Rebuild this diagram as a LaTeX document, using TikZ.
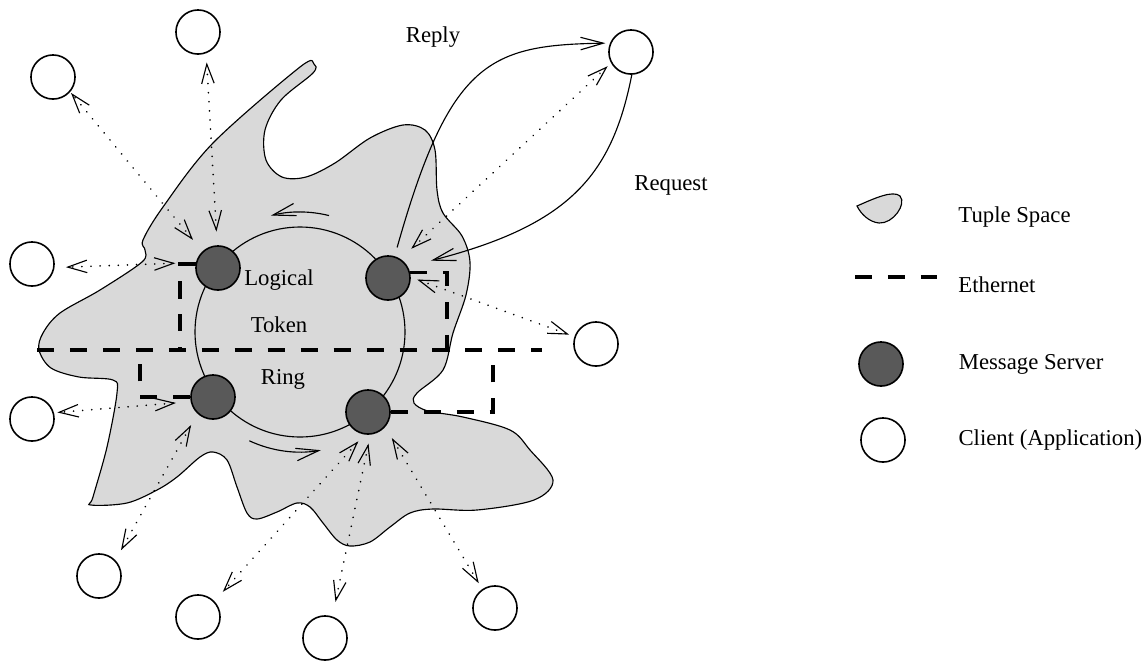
\documentclass[tikz,border=0pt]{standalone}
\usepackage{fontspec}
\setmainfont{Liberation Serif}
\usetikzlibrary{positioning,arrows.meta}
\tikzstyle{tsfill}=[draw=black, fill=black!15, line width=0.5pt]
\tikzstyle{srvnode}=[circle, draw=black, fill=black!65, line width=0.7pt,
                     minimum size=19.4pt, inner sep=0pt]
\tikzstyle{clnode}=[circle, draw=black, fill=white, line width=0.7pt,
                    minimum size=19.4pt, inner sep=0pt]
\tikzstyle{ringnode}=[circle, draw=black, line width=0.5pt, minimum size=92.4pt, inner sep=0pt]
\tikzstyle{ethline}=[line width=1.4pt, dash pattern=on 7.5pt off 7pt]
\tikzstyle{dline}=[{Straight Barb[length=8.5pt,width=5.5pt,line width=0.5pt]}-{Straight Barb[length=8.5pt,width=5.5pt,line width=0.5pt]},
                   line width=0.8pt, dash pattern=on 0.01pt off 4pt, line cap=round]
\tikzstyle{sline}=[-{Straight Barb[length=10pt,width=5.5pt]}, line width=0.5pt]
\tikzstyle{lgtxt}=[inner sep=0pt]

\begin{document}
\begin{tikzpicture}[x=0.44pt, y=-0.44pt]
\useasboundingbox (0,0) rectangle (1145,660);

\draw[tsfill] plot[smooth cycle, tension=0.55] coordinates {
 (300,67) (314,64) (313,73) (281,100) (265,130) (266,160) (282,177) (306,177)
 (335,163) (370,138) (403,125) (425,130) (435,150) (437,190) (443,213) (462,236)
 (470,262) (466,295) (453,333) (443,370) (417,393) (414,403) (428,411) (463,417)
 (510,430) (530,450) (553,480) (534,500) (477,510) (433,509) (410,513) (390,527)
 (370,542) (350,546) (337,540) (323,523) (310,507) (297,503) (277,512) (257,519)
 (247,513) (237,487) (227,460) (213,452) (200,457) (177,477) (157,490) (127,503)
 (91,505) (93,497) (107,447) (117,393) (113,380) (79,377) (51,368) (39,350)
 (43,333) (60,313) (100,290) (142,262) (145,250) (143,240) (163,207) (213,143)};

\node (RING) [ringnode] at (300,332) {};
\draw[sline] ([shift={(-76:120)}]RING.center) arc[start angle=-76, end angle=-104, radius=120];
\draw[sline] ([shift={(115:120)}]RING.center) arc[start angle=115, end angle=80, radius=120];

\node (SRVTL) [srvnode] at (218,268) {};
\node (SRVTR) [srvnode] at (388,278) {};
\node (SRVBL) [srvnode] at (213,397) {};
\node (SRVBR) [srvnode] at (368,412) {};

\coordinate (ETHW) at (37,350);
\coordinate (ETHE) at (542,350);
\coordinate (ETHA) at (180,350);
\coordinate (ETHB) at (447,350);
\coordinate (ETHC) at (140,350);
\coordinate (ETHD) at (493,350);
\draw[ethline] (ETHW) -- (ETHE);
\draw[ethline] (SRVTL.170) -| (ETHA);
\draw[ethline] (SRVTR.13) -| (ETHB);
\draw[ethline] (SRVBL.west) -| (ETHC);
\draw[ethline] (SRVBR.east) -| (ETHD);

\node (CLNT1) [clnode] at (198,32) {};
\node (CLNT2) [clnode] at (53,77) {};
\node (CLNT3) [clnode] at (32,264) {};
\node (CLNT4) [clnode] at (32,419) {};
\node (CLNT5) [clnode] at (99,576) {};
\node (CLNT6) [clnode] at (198,617) {};
\node (CLNT7) [clnode] at (325,638) {};
\node (CLNT8) [clnode] at (495,608) {};
\node (CLNT9) [clnode] at (596,344) {};
\node (CLNT10) [clnode] at (631,52) {};

\draw[dline, shorten <=6pt, shorten >=4pt] (SRVTL.92) -- (CLNT1.-69);
\draw[dline, shorten <=6.5pt, shorten >=0.5pt] (SRVTL.133) -- (CLNT2.-41);
\draw[dline, shorten <=9pt, shorten >=5pt] (SRVTL.166) -- (CLNT3.-9);
\draw[dline, shorten <=6.5pt, shorten >=1.5pt] (SRVBL.192) -- (CLNT4.16);
\draw[dline, shorten <=5.7pt, shorten >=5pt] (SRVBL.227) -- (CLNT5.44);
\draw[dline, shorten <=4pt, shorten >=5.5pt] (SRVBR.261) -- (CLNT6.44);
\draw[dline, shorten <=4pt, shorten >=6.5pt] (SRVBR.276) -- (CLNT7.71);
\draw[dline, shorten <=5.7pt, shorten >=3pt] (SRVBR.-41) -- (CLNT8.124);
\draw[dline, shorten <=3pt, shorten >=2.5pt] (SRVTR.2) -- (CLNT9.161);
\draw[dline, shorten <=6.5pt, shorten >=2pt] (SRVTR.57) -- (CLNT10.-151);

\draw[sline, shorten <=4pt, shorten >=2pt] (SRVTR.73) .. controls (450,60) and (490,45) .. (CLNT10.157);
\draw[sline, shorten >=10.5pt] (CLNT10.-88) .. controls (612,175) and (570,225) .. (SRVTR.30);

\node (LOGTXT) at (279,280) {Logical};
\node (TOKTXT) at (279,325) {Token};
\node (RINGTXT) at (283,379) {Ring};
\node (REPLYTXT) at (433,37) {Reply};
\node (REQTXT) at (671,185) {Request};

\draw[tsfill] (857,206) .. controls (875,198) and (893,190) .. (900,196)
   .. controls (907,204) and (893,224) .. (879,223) .. controls (869,222) and (861,214) .. cycle;
\node (LEGTS) [lgtxt, anchor=west] at (958,217) {Tuple Space};
\draw[ethline] (855,277) -- (937,277);
\node (LEGETH) [lgtxt, anchor=west] at (958,285) {Ethernet};
\node (LEGSRV) [srvnode] at (881,364) {};
\node (LEGSRVTXT) [lgtxt, right=24pt of LEGSRV] {Message Server};
\node (LEGCL) [clnode] at (883,440) {};
\node (LEGCLTXT) [lgtxt, right=23pt of LEGCL] {Client (Application)};

\end{tikzpicture}
\end{document}
